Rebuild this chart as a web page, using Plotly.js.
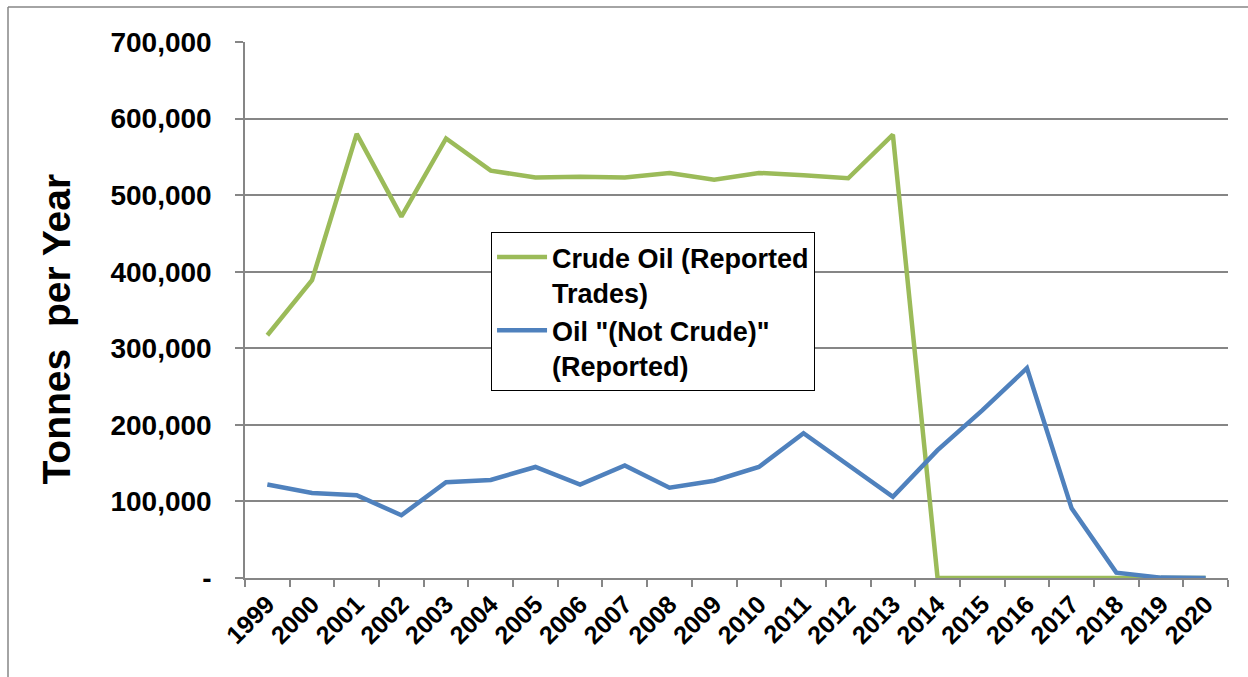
<!DOCTYPE html>
<html>
<head>
<meta charset="utf-8">
<script src="https://cdn.plot.ly/plotly-3.0.1.min.js"></script>
<style>
  html, body { margin: 0; padding: 0; background: #fff; }
  #plotArea { width: 1248px; height: 677px; }
</style>
</head>
<body>
<div id="plotArea"></div>
<script>
// =============================================================================
// Data
// =============================================================================

var years = ["1999", "2000", "2001", "2002", "2003", "2004", "2005", "2006",
    "2007", "2008", "2009", "2010", "2011", "2012", "2013", "2014", "2015",
    "2016", "2017", "2018", "2019", "2020"];

var crudeOil = [317000, 389000, 580000, 472000, 574000, 532000, 523000, 524000,
    523000, 529000, 520000, 529000, 526000, 522000, 579000, 0, 0,
    0, 0, 0, 0, 0];

var notCrude = [122000, 111000, 108000, 82000, 125000, 128000, 145000, 122000,
    147000, 118000, 127000, 145000, 189000, 147000, 106000, 167000, 219000,
    274000, 91000, 7000, 500, 0];

var yTickVals = [0, 100000, 200000, 300000, 400000, 500000, 600000, 700000];
var yTickText = ["-", "100,000", "200,000", "300,000", "400,000", "500,000", "600,000", "700,000"];

// =============================================================================
// Traces
// =============================================================================

var font = "Liberation Sans, Arial, sans-serif";
var grey = "#868686";

var crudeTrace = {
    x: years,
    y: crudeOil,
    type: "scatter",
    mode: "lines",
    name: "<b>Crude Oil (Reported<br>Trades)</b>",
    line: {color: "#9BBB59", width: 4.5}
};

var notCrudeTrace = {
    x: years,
    y: notCrude,
    type: "scatter",
    mode: "lines",
    name: "<b>Oil \"(Not Crude)\"<br>(Reported)</b>",
    line: {color: "#4F81BD", width: 4.5}
};

var layout = {
    width: 1248,
    height: 677,
    margin: {l: 245, r: 20, t: 42, b: 99},
    paper_bgcolor: "#fff",
    plot_bgcolor: "#fff",
    font: {family: font, color: "#000"},
    showlegend: true,
    legend: {
        x: 0.2503,
        y: 0.6455,
        xanchor: "left",
        yanchor: "top",
        bordercolor: "#000",
        borderwidth: 1,
        bgcolor: "#fff",
        valign: "top",
        itemwidth: 50,
        font: {family: font, size: 27, color: "#000"},
        tracegroupgap: 0
    },
    xaxis: {
        type: "category",
        range: [-0.5, years.length - 0.5],
        tickson: "boundaries",
        ticks: "outside",
        ticklen: 7,
        tickcolor: grey,
        tickwidth: 1.5,
        showline: true,
        linecolor: grey,
        linewidth: 1.5,
        showgrid: false,
        tickangle: -45,
        tickfont: {family: font, size: 25, color: "#000", weight: "bold"}
    },
    yaxis: {
        range: [0, 700000],
        tickvals: yTickVals,
        ticktext: yTickText,
        ticks: "outside",
        ticklen: 8,
        tickcolor: grey,
        tickwidth: 1.5,
        ticklabelstandoff: 18,
        showline: true,
        linecolor: grey,
        linewidth: 1.5,
        showgrid: true,
        gridcolor: grey,
        gridwidth: 1.5,
        zeroline: false,
        tickfont: {family: font, size: 28, color: "#000", weight: "bold"}
    },
    annotations: [
        {
            text: "<b>Tonnes\u00a0 per Year</b>",
            xref: "paper", yref: "paper",
            x: -0.192, y: 0.464,
            xanchor: "center", yanchor: "middle",
            textangle: -90,
            showarrow: false,
            font: {family: font, size: 39, color: "#000"}
        }
    ],
    shapes: [
        // chart outer border (top and left visible)
        {type: "line", xref: "paper", yref: "paper", x0: -0.2411, x1: -0.2411, y0: -0.3, y1: 1.0653,
            line: {color: grey, width: 1.5}},
        {type: "line", xref: "paper", yref: "paper", x0: -0.2411, x1: 1.05, y0: 1.0653, y1: 1.0653,
            line: {color: grey, width: 1.5}}
    ]
};

Plotly.newPlot("plotArea", [crudeTrace, notCrudeTrace], layout, {displayModeBar: false});
</script>
</body>
</html>
